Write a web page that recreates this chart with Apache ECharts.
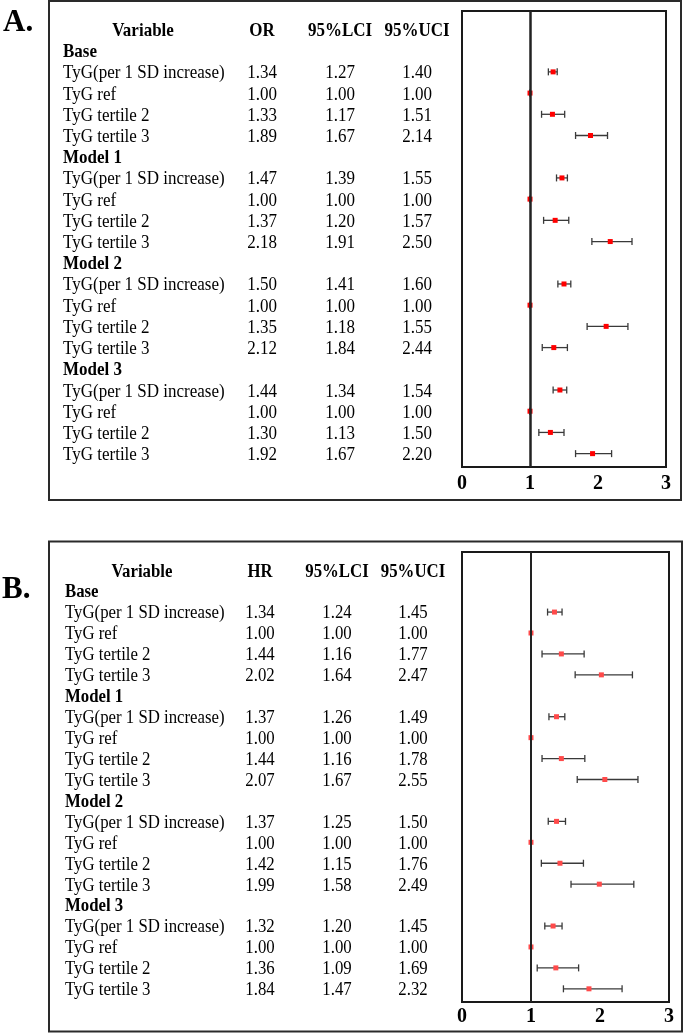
<!DOCTYPE html>
<html>
<head>
<meta charset="utf-8">
<script src="https://cdn.jsdelivr.net/npm/echarts@6/dist/echarts.min.js"></script>
<style>
html,body{margin:0;padding:0;background:#fff;}
#c{width:685px;height:1033px;}
</style>
</head>
<body>
<div id="c"></div>
<script>
// ---------------- DATA ----------------
const groups = ['Base', 'Model 1', 'Model 2', 'Model 3'];
const variables = ['TyG(per 1 SD increase)', 'TyG ref', 'TyG tertile 2', 'TyG tertile 3'];
const columnsA = ['Variable', 'OR', '95%LCI', '95%UCI'];
const columnsB = ['Variable', 'HR', '95%LCI', '95%UCI'];
const xTicks = [0, 1, 2, 3];

// Panel A table values
const orA  = [1.34, 1.00, 1.33, 1.89, 1.47, 1.00, 1.37, 2.18, 1.50, 1.00, 1.35, 2.12, 1.44, 1.00, 1.30, 1.92];
const lciA = [1.27, 1.00, 1.17, 1.67, 1.39, 1.00, 1.20, 1.91, 1.41, 1.00, 1.18, 1.84, 1.34, 1.00, 1.13, 1.67];
const uciA = [1.40, 1.00, 1.51, 2.14, 1.55, 1.00, 1.57, 2.50, 1.60, 1.00, 1.55, 2.44, 1.54, 1.00, 1.50, 2.20];
// Panel A values as drawn in the forest plot (Model 2 tertiles appear swapped in the figure)
const plotEstA = [1.34, 1.00, 1.33, 1.89, 1.47, 1.00, 1.37, 2.18, 1.50, 1.00, 2.12, 1.35, 1.44, 1.00, 1.30, 1.92];
const plotLoA  = [1.27, 1.00, 1.17, 1.67, 1.39, 1.00, 1.20, 1.91, 1.41, 1.00, 1.84, 1.18, 1.34, 1.00, 1.13, 1.67];
const plotHiA  = [1.40, 1.00, 1.51, 2.14, 1.55, 1.00, 1.57, 2.50, 1.60, 1.00, 2.44, 1.55, 1.54, 1.00, 1.50, 2.20];

// Panel B table values (plotted as shown)
const hrB  = [1.34, 1.00, 1.44, 2.02, 1.37, 1.00, 1.44, 2.07, 1.37, 1.00, 1.42, 1.99, 1.32, 1.00, 1.36, 1.84];
const lciB = [1.24, 1.00, 1.16, 1.64, 1.26, 1.00, 1.16, 1.67, 1.25, 1.00, 1.15, 1.58, 1.20, 1.00, 1.09, 1.47];
const uciB = [1.45, 1.00, 1.77, 2.47, 1.49, 1.00, 1.78, 2.55, 1.50, 1.00, 1.76, 2.49, 1.45, 1.00, 1.69, 2.32];

// ---------------- LAYOUT / STYLE ----------------
const FONT = '"Liberation Serif", "Times New Roman", serif';
const Y_MIN = -1.87, Y_MAX = 19.63;
const TEXT_SCALE_Y = 1.12;

const panels = [
  {
    letter: 'A.', letterX: 3, letterY: 23,
    box: {x: 49, y: 1, width: 632, height: 499},
    plot: {left: 462, top: 11, width: 204, height: 456},
    labelMargin: 7, textDy: 1.5,
    colX: [143, 262, 340, 417], labelX: 63,
    columns: columnsA,
    tEst: orA, tLo: lciA, tHi: uciA,
    pEst: plotEstA, pLo: plotLoA, pHi: plotHiA,
    pointColor: '#ff0000', refWidth: 2.5,
    fontSize: 17
  },
  {
    letter: 'B.', letterX: 2, letterY: 590,
    box: {x: 49, y: 541.5, width: 633, height: 490},
    plot: {left: 462, top: 552, width: 207, height: 450},
    labelMargin: 5, textDy: 1.5,
    colX: [142, 260, 337, 413], labelX: 65,
    columns: columnsB,
    tEst: hrB, tLo: lciB, tHi: uciB,
    pEst: hrB, pLo: lciB, pHi: uciB,
    pointColor: '#ff4a4a', refWidth: 2,
    fontSize: 16.8
  }
];

const rowOf = (i) => Math.floor(i / variables.length) * (variables.length + 1) + 1 + (i % variables.length);

const option = {
  animation: false,
  backgroundColor: '#fff',
  grid: [], xAxis: [], yAxis: [], series: [], graphic: []
};

panels.forEach((p, k) => {
  const gPlot = option.grid.length;
  option.grid.push({
    left: p.plot.left, top: p.plot.top, width: p.plot.width, height: p.plot.height,
    show: true, borderColor: '#1a1a1a', borderWidth: 2, backgroundColor: 'rgba(0,0,0,0)'
  });
  const gTab = option.grid.length;
  option.grid.push({left: 0, top: p.plot.top + p.textDy, width: 685, height: p.plot.height});

  const xPlot = option.xAxis.length;
  option.xAxis.push({
    type: 'value', gridIndex: gPlot, min: xTicks[0], max: xTicks[xTicks.length - 1], interval: 1,
    axisLine: {show: false}, axisTick: {show: false}, splitLine: {show: false},
    axisLabel: {fontFamily: FONT, fontWeight: 'bold', fontSize: 20, color: '#000', margin: p.labelMargin}
  });
  const xTab = option.xAxis.length;
  option.xAxis.push({type: 'value', gridIndex: gTab, min: 0, max: 685, show: false});
  const yPlot = option.yAxis.length;
  option.yAxis.push({type: 'value', gridIndex: gPlot, inverse: true, min: Y_MIN, max: Y_MAX, show: false});
  const yTab = option.yAxis.length;
  option.yAxis.push({type: 'value', gridIndex: gTab, inverse: true, min: Y_MIN, max: Y_MAX, show: false});

  // Error bars
  option.series.push({
    type: 'custom', xAxisIndex: xPlot, yAxisIndex: yPlot, z: 2, silent: true,
    data: p.pEst.map((_, i) => [p.pLo[i], p.pHi[i], rowOf(i)]),
    encode: {x: [0, 1], y: 2},
    renderItem: (params, api) => {
      const a = api.coord([api.value(0), api.value(2)]);
      const b = api.coord([api.value(1), api.value(2)]);
      const h = 3.5;
      const st = {stroke: '#3a3a3a', lineWidth: 1.3};
      return {type: 'group', children: [
        {type: 'line', shape: {x1: a[0], y1: a[1], x2: b[0], y2: b[1]}, style: st},
        {type: 'line', shape: {x1: a[0], y1: a[1] - h, x2: a[0], y2: a[1] + h}, style: st},
        {type: 'line', shape: {x1: b[0], y1: b[1] - h, x2: b[0], y2: b[1] + h}, style: st}
      ]};
    },
    markLine: {
      silent: true, symbol: ['none', 'none'], animation: false,
      label: {show: false},
      lineStyle: {color: '#222', width: p.refWidth, type: 'solid'},
      data: [{xAxis: 1}]
    }
  });
  // Points
  option.series.push({
    type: 'scatter', xAxisIndex: xPlot, yAxisIndex: yPlot, z: 4, silent: true,
    symbol: 'rect', symbolSize: 5,
    itemStyle: {color: p.pointColor, opacity: 1},
    data: p.pEst.map((v, i) => [v, rowOf(i)])
  });

  // Table text (custom series so glyphs can be stretched vertically like the reference)
  const txt = (items, align, bold) => ({
    type: 'custom', xAxisIndex: xTab, yAxisIndex: yTab, z: 5, silent: true,
    data: items.map(it => it.value),
    renderItem: (params, api) => {
      const pt = api.coord([api.value(0), api.value(1)]);
      return {
        type: 'text', x: pt[0], y: pt[1], scaleY: TEXT_SCALE_Y,
        style: {
          text: items[params.dataIndex].name,
          font: (bold ? 'bold ' : '') + p.fontSize + 'px ' + FONT,
          fill: '#000', align: align, verticalAlign: 'middle'
        }
      };
    }
  });
  option.series.push(txt(p.columns.map((c, j) => ({name: c, value: [p.colX[j], -1]})), 'center', true));
  option.series.push(txt(groups.map((g, gi) => ({name: g, value: [p.labelX, gi * (variables.length + 1)]})), 'left', true));
  option.series.push(txt(p.tEst.map((_, i) => ({name: variables[i % variables.length], value: [p.labelX, rowOf(i)]})), 'left', false));
  [p.tEst, p.tLo, p.tHi].forEach((arr, j) => {
    option.series.push(txt(arr.map((v, i) => ({name: v.toFixed(2), value: [p.colX[j + 1], rowOf(i)]})), 'center', false));
  });

  // Outer box and panel letter
  option.graphic.push({
    type: 'rect', shape: p.box, silent: true, z: 0,
    style: {fill: 'none', stroke: '#2a2a2a', lineWidth: 2}
  });
  option.graphic.push({
    type: 'text', x: p.letterX, y: p.letterY, silent: true,
    style: {text: p.letter, font: 'bold 31px ' + FONT, fill: '#000', verticalAlign: 'middle'}
  });
});

const chart = echarts.init(document.getElementById('c'), null, {renderer: 'canvas'});
chart.setOption(option);
</script>
</body>
</html>
